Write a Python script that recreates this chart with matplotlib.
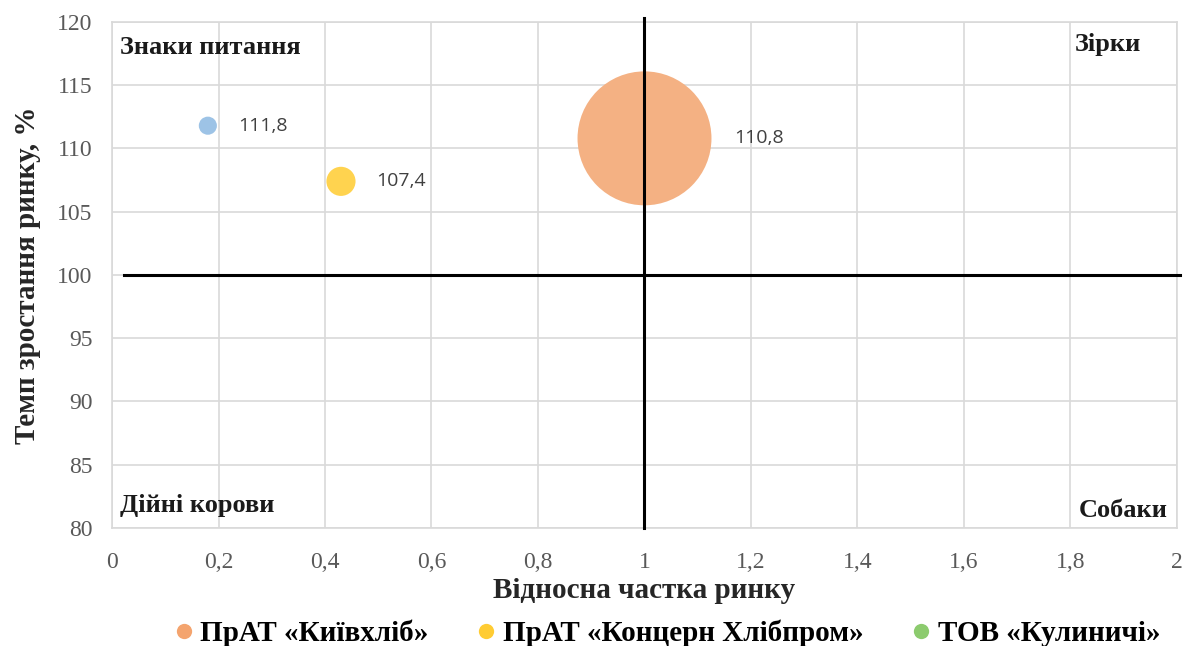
import matplotlib.pyplot as plt
from matplotlib.lines import Line2D

# =====================================================
# Data (BCG matrix)
# =====================================================
companies = ["ПрАТ «Київхліб»", "ПрАТ «Концерн Хлібпром»", "ТОВ «Кулиничі»"]
rel_share = [1.0, 0.43, 0.18]          # відносна частка ринку
growth = [110.8, 107.4, 111.8]          # темп зростання ринку, %
bubble_size = [9300, 440, 170]          # bubble area (pt^2)
value_labels = ["110,8", "107,4", "111,8"]

bubble_colors = ["#F4B183", "#FFD34F", "#9DC3E6"]
legend_colors = ["#F4A46E", "#FFCC33", "#8CCB6E"]

x_ticks = [0, 0.2, 0.4, 0.6, 0.8, 1.0, 1.2, 1.4, 1.6, 1.8, 2.0]
x_tick_labels = ["0", "0,2", "0,4", "0,6", "0,8", "1", "1,2", "1,4", "1,6", "1,8", "2"]
y_ticks = [80, 85, 90, 95, 100, 105, 110, 115, 120]

plt.rcParams.update({
    "font.family": ["Liberation Serif", "DejaVu Serif"],
})

fig = plt.figure(figsize=(11.89, 6.46), dpi=100)
ax = fig.add_axes([0.0942, 0.1827, 0.8957, 0.7833])

# grid
ax.set_xlim(0, 2)
ax.set_ylim(80, 120)
ax.set_xticks(x_ticks)
ax.set_xticklabels(x_tick_labels)
ax.set_yticks(y_ticks)
ax.grid(True, color="#d9d9d9", linewidth=1.2)
ax.set_axisbelow(True)
for side in ax.spines.values():
    side.set_color("#d9d9d9")
    side.set_linewidth(1.2)
ax.tick_params(length=0, labelsize=17, colors="#595959")
ax.tick_params(axis="x", pad=17)
ax.tick_params(axis="y", pad=14)

# quadrant lines
ax.plot([1.0, 1.0], [80, 120.3], color="black", lw=2.2, clip_on=False, zorder=3)
ax.plot([0.023, 2.006], [100, 100], color="black", lw=2.2, clip_on=False, zorder=3)

# bubbles
ax.scatter(rel_share, growth, s=bubble_size, c=bubble_colors,
           edgecolors="none", zorder=2)

# value labels to the right of each bubble
offsets = [90, 35, 30]
for x, y, lab, off in zip(rel_share, growth, value_labels, offsets):
    ax.annotate(lab, (x, y), xytext=(off * 0.72, 0), textcoords="offset points",
                ha="left", va="center", fontsize=14, color="#404040",
                family="Open Sans", zorder=4)

# quadrant names
qkw = dict(fontsize=19, fontweight="bold", color="#1a1a1a", zorder=4)
ax.text(0.015, 118.0, "Знаки питання", ha="left", va="center", **qkw)
ax.text(1.808, 118.2, "Зірки", ha="left", va="center", **qkw)
ax.text(0.015, 81.8, "Дійні корови", ha="left", va="center", **qkw)
ax.text(1.983, 81.4, "Собаки", ha="right", va="center", **qkw)

ax.set_xlabel("Відносна частка ринку", fontsize=21, fontweight="bold",
              color="#262626", labelpad=3)
ax.set_ylabel("Темп зростання ринку, %", fontsize=21, fontweight="bold",
              color="#262626", labelpad=12)

handles = [Line2D([], [], marker="o", linestyle="none", markersize=11,
                  markerfacecolor=c, markeredgecolor="none") for c in legend_colors]
fig.legend(handles, companies, loc="lower center", ncol=3, frameon=False,
           bbox_to_anchor=(0.562, -0.042), handlelength=0.5, handletextpad=0.3,
           columnspacing=1.75,
           prop={"family": "Liberation Serif", "weight": "bold", "size": 21})

fig.savefig("out.png", dpi=100)
